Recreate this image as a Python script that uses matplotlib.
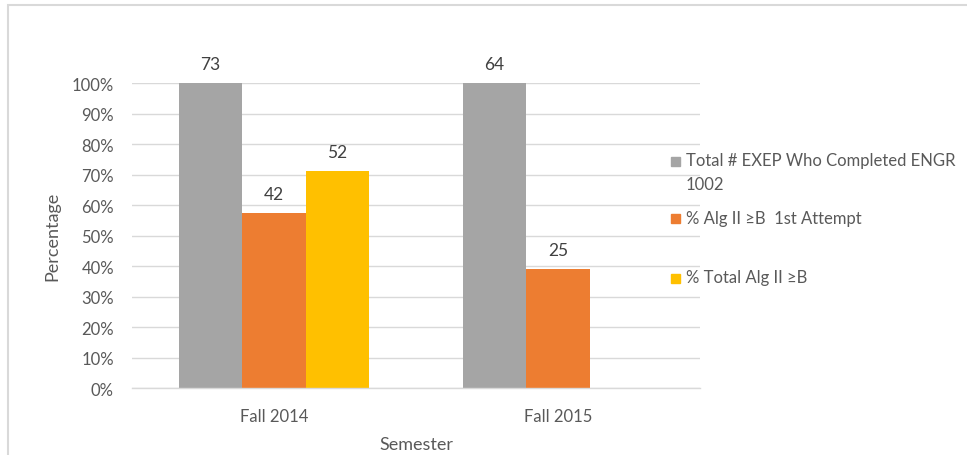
import numpy as np
import matplotlib.pyplot as plt
from matplotlib.patches import Rectangle

plt.rcParams['font.family'] = ['Lato', 'DejaVu Sans']

semesters = ['Fall 2014', 'Fall 2015']
series_names = ['Total # EXEP Who Completed ENGR\n1002',
                '% Alg II \u2265B  1st Attempt',
                '% Total Alg II \u2265B']
# percentage heights
total_pct = [100, 100]
first_pct = [57.6, 39.1]
alg_pct = [71.1, np.nan]
# counts shown above the bars
total_n = ['73', '64']
first_n = ['42', '25']
alg_n = ['52', '']
colors = ['#A5A5A5', '#ED7D31', '#FFC000']

fig = plt.figure(figsize=(9.67, 4.56), dpi=100)
ax = fig.add_axes([132/967, 1-389.3/456, 568/967, 305/456])

x = np.arange(len(semesters))
w = 0.223
vals = [total_pct, first_pct, alg_pct]
labs = [total_n, first_n, alg_n]
for i, (v, l, c) in enumerate(zip(vals, labs, colors)):
    xs = x + (i-1)*w
    ax.bar(xs, v, w, color=c, zorder=2)
    for xx, vv, ll in zip(xs, v, l):
        if not np.isnan(vv) and ll:
            ax.annotate(ll, (xx, vv), xytext=(0, 8), textcoords='offset points',
                        ha='center', va='bottom', fontsize=12.5, color='#404040',
                        annotation_clip=False)

ax.set_xlim(-0.5, 1.5)
ax.set_ylim(0, 100)
ax.set_yticks(np.arange(0, 101, 10))
ax.set_yticklabels([f'{t}%' for t in range(0, 101, 10)])
ax.set_xticks(x)
ax.set_xticklabels(semesters)
ax.tick_params(length=0, labelsize=12, colors='#595959')
ax.tick_params(axis='y', pad=13)
ax.tick_params(axis='x', pad=14)
ax.yaxis.grid(True, color='#D9D9D9', lw=1, zorder=0)
for s in ['left', 'right', 'top']:
    ax.spines[s].set_visible(False)
ax.spines['bottom'].set_color('#D9D9D9')
ax.spines['bottom'].set_linewidth(1)
ax.set_xlabel('Semester', fontsize=13, color='#595959', labelpad=9)
ax.set_ylabel('Percentage', fontsize=13, color='#595959', labelpad=8)

# legend drawn by hand, Excel style
rows_y = [162, 220, 279]
for name, c, yy in zip(series_names, colors, rows_y):
    fy = 1 - yy/456
    fig.patches.append(Rectangle((671/967, fy - 4.5/456), 9/967, 9/456,
                                 transform=fig.transFigure, color=c))
    fig.text(686/967, fy + 9/456, name, fontsize=12, color='#595959',
             ha='left', va='top', linespacing=1.65)

# outer chart border
fig.patches.append(Rectangle((8/967, -0.1), 1.1, 1.1 - 6/456, transform=fig.transFigure,
                             fill=False, edgecolor='#D9D9D9', lw=1.5))

fig.savefig('out.png', dpi=100)
